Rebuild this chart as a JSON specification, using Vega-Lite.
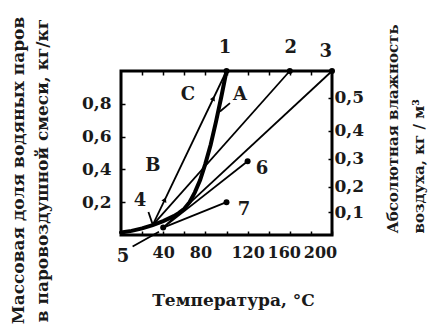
{
  "$schema": "https://vega.github.io/schema/vega-lite/v6.json",
  "autosize": "none",
  "width": 211,
  "height": 164,
  "padding": {"left": 121, "top": 71, "right": 103, "bottom": 98},
  "background": "white",
  "config": {
    "view": {"stroke": "black", "strokeWidth": 3},
    "font": "DejaVu Serif",
    "axis": {
      "grid": false,
      "domain": false,
      "tickColor": "black",
      "tickWidth": 1.5,
      "tickSize": -4,
      "labelFont": "DejaVu Serif",
      "labelFontWeight": "bold",
      "labelFontSize": 17,
      "labelColor": "#1a1a1a",
      "labelOverlap": false,
      "labelBound": false,
      "labelFlush": false,
      "titleFont": "DejaVu Serif",
      "titleFontWeight": "bold",
      "titleFontSize": 16,
      "titleColor": "#1a1a1a"
    },
    "text": {"font": "DejaVu Serif", "fontWeight": "bold", "fontSize": 18, "color": "#1a1a1a"}
  },
  "datasets": {
    "curve": [
      {"t": 0, "w": 0.015}, {"t": 10, "w": 0.025}, {"t": 20, "w": 0.04}, {"t": 30, "w": 0.06},
      {"t": 40, "w": 0.085}, {"t": 50, "w": 0.115}, {"t": 55, "w": 0.135}, {"t": 60, "w": 0.16},
      {"t": 65, "w": 0.2}, {"t": 70, "w": 0.26}, {"t": 75, "w": 0.335}, {"t": 80, "w": 0.435},
      {"t": 85, "w": 0.55}, {"t": 90, "w": 0.69}, {"t": 95, "w": 0.84}, {"t": 100, "w": 1.0}
    ],
    "segs": [
      {"id": "C", "ord": 0, "t": 30, "w": 0.06}, {"id": "C", "ord": 1, "t": 100, "w": 1.0},
      {"id": "2", "ord": 0, "t": 30, "w": 0.06}, {"id": "2", "ord": 1, "t": 160, "w": 1.0},
      {"id": "3", "ord": 0, "t": 40, "w": 0.045}, {"id": "3", "ord": 1, "t": 200, "w": 1.0},
      {"id": "6", "ord": 0, "t": 40, "w": 0.045}, {"id": "6", "ord": 1, "t": 120, "w": 0.45},
      {"id": "7", "ord": 0, "t": 40, "w": 0.045}, {"id": "7", "ord": 1, "t": 100, "w": 0.2},
      {"id": "lead4", "ord": 0, "t": 26, "w": 0.14}, {"id": "lead4", "ord": 1, "t": 30, "w": 0.065},
      {"id": "lead5", "ord": 0, "t": 11, "w": -0.07}, {"id": "lead5", "ord": 1, "t": 36, "w": 0.02},
      {"id": "leadA", "ord": 0, "t": 103.3, "w": 0.804}, {"id": "leadA", "ord": 1, "t": 93.8, "w": 0.753}
    ],
    "dots": [
      {"t": 100, "w": 1.0}, {"t": 160, "w": 1.0}, {"t": 200, "w": 1.0},
      {"t": 40, "w": 0.045}, {"t": 120, "w": 0.45}, {"t": 100, "w": 0.2}
    ],
    "arrows": [
      {"t": 41.6, "w": 0.216}, {"t": 87.6, "w": 0.834}
    ],
    "labels": [
      {"label": "1", "t": 98.6, "w": 1.14},
      {"label": "2", "t": 161, "w": 1.14},
      {"label": "3", "t": 194, "w": 1.115},
      {"label": "4", "t": 18, "w": 0.21},
      {"label": "5", "t": 2, "w": -0.137},
      {"label": "6", "t": 133.6, "w": 0.4},
      {"label": "7", "t": 116.6, "w": 0.155},
      {"label": "A", "t": 112.8, "w": 0.854},
      {"label": "B", "t": 30.3, "w": 0.42},
      {"label": "C", "t": 63.5, "w": 0.854}
    ]
  },
  "layer": [
    {
      "data": {"name": "segs"},
      "mark": {"type": "line", "color": "black", "strokeWidth": 1.8, "clip": false},
      "encoding": {
        "x": {
          "field": "t", "type": "quantitative",
          "scale": {"domain": [0, 200], "nice": false, "zero": false},
          "axis": {
            "orient": "bottom",
            "values": [20, 40, 60, 80, 100, 120, 140, 160, 180, 200],
            "labelExpr": "datum.value % 40 == 0 ? datum.label : ''",
            "labelFontSize": 16,
            "labelOffset": {"condition": [
              {"test": "datum.value == 80", "value": -5},
              {"test": "datum.value == 160", "value": -6},
              {"test": "datum.value == 200", "value": -12}
            ], "value": 0},
            "labelPadding": 13,
            "title": "Температура, °C",
            "titleFontSize": 17,
            "titleX": 112, "titleY": 65, "titleBaseline": "middle", "titleAlign": "center"
          }
        },
        "y": {
          "field": "w", "type": "quantitative",
          "scale": {"domain": [0, 1], "nice": false, "zero": false},
          "axis": {
            "orient": "left",
            "values": [0.2, 0.4, 0.6, 0.8],
            "labelExpr": "replace(format(datum.value, '.1f'), '.', ',')",
            "labelPadding": 14,
            "title": ["Массовая доля водяных паров", "в паровоздушной смеси, кг/кг"],
            "titleAngle": 270,
            "titleAlign": "center",
            "titleBaseline": "middle",
            "titleLineHeight": 24,
            "titleFontSize": 17,
            "titleX": -103, "titleY": 99
          }
        },
        "detail": {"field": "id"},
        "order": {"field": "ord"}
      }
    },
    {
      "data": {"name": "curve"},
      "mark": {"type": "line", "color": "black", "strokeWidth": 4, "strokeCap": "round"},
      "encoding": {
        "x": {"field": "t", "type": "quantitative", "axis": null},
        "y": {"field": "w", "type": "quantitative", "axis": null}
      }
    },
    {
      "data": {"name": "dots"},
      "mark": {"type": "point", "filled": true, "color": "black", "size": 36, "opacity": 1, "clip": false},
      "encoding": {
        "x": {"field": "t", "type": "quantitative", "axis": null},
        "y": {"field": "w", "type": "quantitative", "axis": null}
      }
    },
    {
      "data": {"name": "arrows"},
      "mark": {"type": "point", "shape": "triangle-up", "angle": 25, "filled": true, "color": "black", "size": 30, "opacity": 1},
      "encoding": {
        "x": {"field": "t", "type": "quantitative", "axis": null},
        "y": {"field": "w", "type": "quantitative", "axis": null}
      }
    },
    {
      "data": {"name": "labels"},
      "mark": {"type": "text", "align": "center", "baseline": "middle", "clip": false},
      "encoding": {
        "x": {
          "field": "t", "type": "quantitative",
          "axis": {
            "orient": "top",
            "values": [20, 40, 60, 80, 100, 120, 140, 160, 180],
            "labels": false,
            "title": null
          }
        },
        "y": {
          "field": "w", "type": "quantitative",
          "axis": {
            "orient": "right",
            "values": [0.14, 0.295, 0.465, 0.635, 0.836],
            "labelExpr": "datum.value > 0.8 ? '0,5' : datum.value > 0.6 ? '0,4' : datum.value > 0.4 ? '0,3' : datum.value > 0.2 ? '0,2' : '0,1'",
            "labelPadding": 6,
            "title": ["Абсолютная влажность", "воздуха, кг / м³"],
            "titleAngle": 270,
            "titleAlign": "left",
            "titleBaseline": "middle",
            "titleLineHeight": 26,
            "titleFontSize": 15,
            "titleX": 60, "titleY": 162
          }
        },
        "text": {"field": "label"}
      }
    }
  ],
  "resolve": {"axis": {"x": "independent", "y": "independent"}}
}
